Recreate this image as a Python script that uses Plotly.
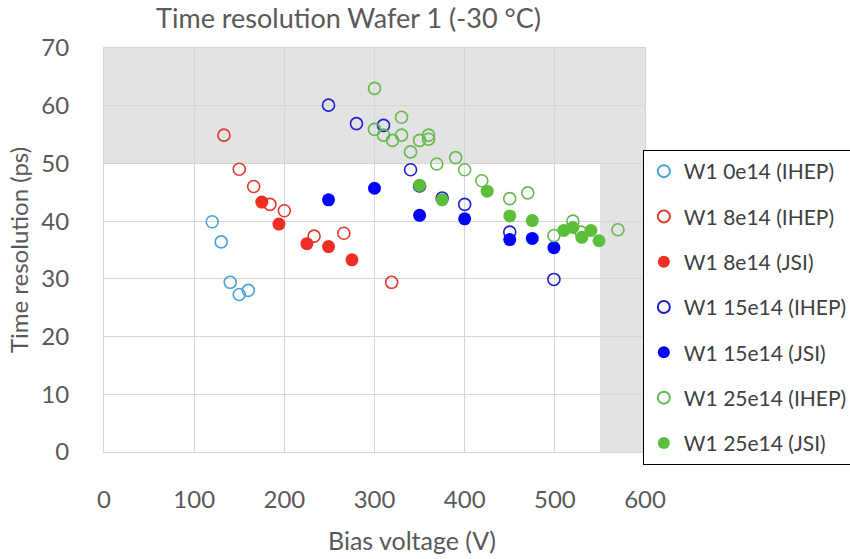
import plotly.graph_objects as go

# --- data (bias voltage V, time resolution ps) ---
v_0e14_ihep = [120, 130, 140, 150, 160]
t_0e14_ihep = [39.9, 36.4, 29.4, 27.3, 28.0]

v_8e14_ihep = [133, 150, 166, 184, 200, 233, 266, 319]
t_8e14_ihep = [54.9, 49.0, 46.0, 42.9, 41.8, 37.4, 37.9, 29.4]

v_8e14_jsi = [175, 194, 225, 249, 275]
t_8e14_jsi = [43.3, 39.5, 36.1, 35.6, 33.3]

v_15e14_ihep = [249, 280, 310, 340, 350, 375, 400, 450, 499]
t_15e14_ihep = [60.1, 56.9, 56.6, 48.9, 46.1, 44.0, 42.9, 38.1, 29.9]

v_15e14_jsi = [249, 300, 350, 400, 450, 475, 499]
t_15e14_jsi = [43.7, 45.7, 41.0, 40.4, 36.8, 37.0, 35.4]

v_25e14_ihep = [300, 300, 310, 320, 330, 330, 340, 350, 360, 360, 369, 390, 400,
                419, 450, 470, 499, 520, 529, 570]
t_25e14_ihep = [63.0, 55.9, 54.9, 54.0, 58.0, 54.9, 52.0, 54.0, 54.9, 54.2, 49.9,
                51.0, 48.9, 47.0, 43.9, 44.9, 37.5, 40.0, 38.1, 38.5]

v_25e14_jsi = [350, 375, 425, 450, 475, 510, 520, 530, 540, 549]
t_25e14_jsi = [46.2, 43.7, 45.2, 40.9, 40.1, 38.4, 38.9, 37.2, 38.4, 36.6]

series = [
    ("W1 0e14 (IHEP)", v_0e14_ihep, t_0e14_ihep, "#4aa3d4", False),
    ("W1 8e14 (IHEP)", v_8e14_ihep, t_8e14_ihep, "#e0392c", False),
    ("W1 8e14 (JSI)", v_8e14_jsi, t_8e14_jsi, "#ee2e24", True),
    ("W1 15e14 (IHEP)", v_15e14_ihep, t_15e14_ihep, "#1f1fd0", False),
    ("W1 15e14 (JSI)", v_15e14_jsi, t_15e14_jsi, "#0000ff", True),
    ("W1 25e14 (IHEP)", v_25e14_ihep, t_25e14_ihep, "#66b852", False),
    ("W1 25e14 (JSI)", v_25e14_jsi, t_25e14_jsi, "#5cbf3a", True),
]

FONT = "Lato"
GREY = "#595959"

fig = go.Figure()
for i, (name, xs, ys, col, filled) in enumerate(series):
    if filled:
        marker = dict(symbol="circle", size=13, color=col, line=dict(width=0))
    else:
        marker = dict(symbol="circle-open", size=12, color=col, line=dict(width=1.6, color=col))
    fig.add_trace(go.Scatter(x=xs, y=ys, mode="markers", name=name,
                             legendgroup=f"g{i}", marker=marker))

# shaded regions
fig.add_shape(type="rect", xref="x", yref="y", x0=0, x1=600, y0=50, y1=70,
              fillcolor="#e3e3e3", line=dict(width=0), layer="below")
fig.add_shape(type="rect", xref="x", yref="y", x0=550, x1=600, y0=0, y1=50,
              fillcolor="#e3e3e3", line=dict(width=0), layer="below")

# x-axis title (placed slightly right of axis centre, as in the original)
fig.add_annotation(text="Bias voltage (V)", xref="paper", yref="paper",
                   x=0.569, y=-0.218, xanchor="center", yanchor="middle",
                   showarrow=False, font=dict(family=FONT, size=25, color=GREY))

fig.update_layout(
    width=850, height=559,
    margin=dict(l=104, r=205, t=48, b=107, autoexpand=False),
    plot_bgcolor="white", paper_bgcolor="white",
    font=dict(family=FONT, color=GREY, size=20),
    title=dict(text="Time resolution Wafer 1 (-30 °C)", x=0.410, xanchor="center",
               y=1 - 19 / 559, yanchor="middle",
               font=dict(family=FONT, size=27, color=GREY)),
    legend=dict(x=0.996, xanchor="left", y=(452 - 150) / 404, yanchor="top",
                bordercolor="#000000", borderwidth=1, bgcolor="white",
                font=dict(family=FONT, size=21, color="#404040"),
                tracegroupgap=15, itemsizing="constant"),
    showlegend=True,
)
fig.update_xaxes(range=[0, 600], dtick=100, showgrid=True, gridcolor="#d6d6d6",
                 gridwidth=1, zeroline=False, showline=True, mirror=True,
                 linecolor="#d6d6d6", linewidth=1,
                 ticklabelstandoff=26, tickfont=dict(size=24, color=GREY))
fig.update_yaxes(range=[0, 70], dtick=10, showgrid=True, gridcolor="#d6d6d6",
                 gridwidth=1, zeroline=False, showline=True, mirror=True,
                 linecolor="#d6d6d6", linewidth=1,
                 ticklabelstandoff=29, tickfont=dict(size=24, color=GREY),
                 title=dict(text="Time resolution (ps)", standoff=5,
                            font=dict(size=24, color=GREY)))

fig.write_html("out.html")
